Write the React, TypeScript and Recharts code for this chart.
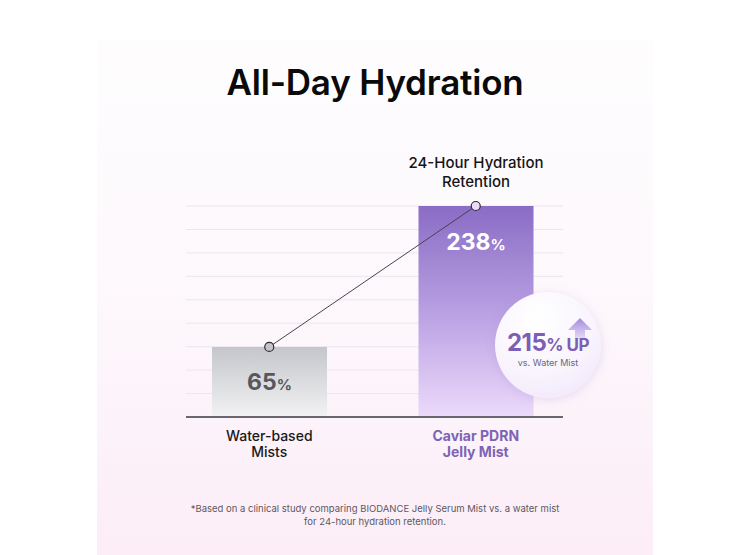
import React from "react";
import { Bar, CartesianGrid, Cell, ComposedChart, LabelList, Line, XAxis, YAxis } from "recharts";

// values
const CATEGORIES = ["Water-based Mists", "Caviar PDRN Jelly Mist"];
const CATEGORY_LINES = [
  ["Water-based", "Mists"],
  ["Caviar PDRN", "Jelly Mist"],
];
const RETENTION = [65, 238];
const ANNOTATION = ["24-Hour Hydration", "Retention"];
const FOOTNOTE = [
  "*Based on a clinical study comparing BIODANCE Jelly Serum Mist vs. a water mist",
  "for 24-hour hydration retention.",
];

// the original artwork is not drawn to scale, the axis starts below zero
const Y_MIN = -21;
const Y_MAX = 238;
const GRID_STEPS = 9;
const GRID_TICKS = Array.from({ length: GRID_STEPS + 1 }, (_, i) => Y_MIN + ((Y_MAX - Y_MIN) * i) / GRID_STEPS);

const FONT = "Inter, 'Noto Sans', sans-serif";
const TICK_COLORS = ["#1a1a1a", "#7c63b6"];
const BAR_FILLS = ["url(#gradGray)", "url(#gradPurple)"];
const DOT_FILLS = ["#c4c5ca", "#e9dcf8"];

const data = CATEGORIES.map((name, i) => ({
  name,
  value: RETENTION[i],
  range: [Y_MIN, RETENTION[i]],
}));

function CategoryTick(props: any) {
  const { x, y, payload, index } = props;
  const lines = CATEGORY_LINES[index] ?? [payload.value];
  return (
    <text
      x={x}
      y={y}
      textAnchor="middle"
      fontFamily={FONT}
      fontSize={14}
      fontWeight={index === 1 ? 700 : 500}
      fill={TICK_COLORS[index]}
    >
      {lines.map((l, i) => (
        <tspan key={i} x={x} dy={i === 0 ? 16 : 16}>
          {l}
        </tspan>
      ))}
    </text>
  );
}

function ValueLabel(props: any) {
  const { x, y, width, height, index } = props;
  const cx = x + width / 2;
  const cy = y + Math.min(height / 2, 36);
  return (
    <text
      x={cx}
      y={cy + 8}
      textAnchor="middle"
      fontFamily={FONT}
      fontWeight={700}
      fontSize={23}
      fill={index === 0 ? "#58585c" : "#ffffff"}
    >
      {RETENTION[index]}
      <tspan fontSize={15}>%</tspan>
    </text>
  );
}

function Annotation(props: any) {
  const { x, y, width, index } = props;
  if (index !== 1) return null;
  const cx = x + width / 2;
  return (
    <text x={cx} y={y - 38} textAnchor="middle" fontFamily={FONT} fontSize={15} fontWeight={500} fill="#151515">
      <tspan x={cx}>{ANNOTATION[0]}</tspan>
      <tspan x={cx} dy={19}>
        {ANNOTATION[1]}
      </tspan>
    </text>
  );
}

function PointDot(props: any) {
  const { cx, cy, index } = props;
  return <circle cx={cx} cy={cy} r={4.5} fill={DOT_FILLS[index]} stroke="#2e2a33" strokeWidth={1.2} />;
}

export default function App() {
  return (
    <div style={{ position: "absolute", left: 0, top: 0, width: 750, height: 555, background: "#ffffff", overflow: "hidden" }}>
      <div
        style={{
          position: "absolute",
          left: 97,
          top: 40,
          width: 556,
          height: 515,
          background: "linear-gradient(180deg, #fefdfe 0%, #fdf8fc 50%, #fcedf7 100%)",
        }}
      />
      <div
        style={{
          position: "absolute",
          left: 0,
          top: 61,
          width: 750,
          textAlign: "center",
          fontFamily: FONT,
          fontWeight: 600,
          fontSize: 35,
          letterSpacing: -0.2,
          color: "#0a0a0a",
        }}
      >
        All-Day Hydration
      </div>
      <div style={{ position: "absolute", left: 0, top: 0 }}>
        <ComposedChart width={750} height={555} data={data} margin={{ top: 206, right: 187, bottom: 78, left: 186 }}>
          <defs>
            <linearGradient id="gradGray" x1="0" y1="0" x2="0" y2="1">
              <stop offset="0%" stopColor="#c4c6cb" />
              <stop offset="100%" stopColor="#f2f2f3" />
            </linearGradient>
            <linearGradient id="gradPurple" x1="0" y1="0" x2="0" y2="1">
              <stop offset="0%" stopColor="#8a6cc5" />
              <stop offset="50%" stopColor="#b8a0e2" />
              <stop offset="100%" stopColor="#ecdafb" />
            </linearGradient>
          </defs>
          <CartesianGrid vertical={false} stroke="#ebe6ee" strokeWidth={1} />
          <YAxis hide type="number" domain={[Y_MIN, Y_MAX]} ticks={GRID_TICKS} />
          <XAxis
            dataKey="name"
            height={60}
            padding={{ left: -20, right: -16 }}
            axisLine={{ stroke: "#6b6770", strokeWidth: 2 }}
            tickLine={false}
            tick={<CategoryTick />}
            interval={0}
          />
          <Bar dataKey="range" barSize={115} isAnimationActive={false}>
            {data.map((_, i) => (
              <Cell key={i} fill={BAR_FILLS[i]} />
            ))}
            <LabelList dataKey="value" content={<ValueLabel />} />
            <LabelList dataKey="value" content={<Annotation />} />
          </Bar>
          <Line
            dataKey="value"
            stroke="#4a4150"
            strokeWidth={1}
            dot={<PointDot />}
            activeDot={false}
            isAnimationActive={false}
          />
        </ComposedChart>
      </div>
      {/* badge */}
      <div
        style={{
          position: "absolute",
          left: 495,
          top: 292,
          width: 106,
          height: 106,
          borderRadius: "50%",
          background: "radial-gradient(circle at 40% 25%, #ffffff 0%, #f9f4fd 55%, #eee2fa 100%)",
          boxShadow: "0 2px 10px rgba(170, 140, 210, 0.25)",
        }}
      />
      <svg style={{ position: "absolute", left: 0, top: 0 }} width={750} height={555}>
        <defs>
          <linearGradient id="arrowGrad" x1="0" y1="0" x2="0" y2="1">
            <stop offset="0%" stopColor="#a68be0" />
            <stop offset="100%" stopColor="#e6dbf7" />
          </linearGradient>
        </defs>
        <path d="M580 318 L592 330 L585 330 L585 339 L575 339 L575 330 L568 330 Z" fill="url(#arrowGrad)" />
        <text x={548} y={351} textAnchor="middle" fontFamily={FONT} fontWeight={700} fill="#7a5fb4" fontSize={24} letterSpacing={-0.5}>
          215<tspan fontSize={17}>% UP</tspan>
        </text>
        <text x={548} y={366} textAnchor="middle" fontFamily={FONT} fontSize={9} fill="#6e6480">
          vs. Water Mist
        </text>
      </svg>
      <div
        style={{
          position: "absolute",
          left: 0,
          top: 502,
          width: 750,
          textAlign: "center",
          fontFamily: FONT,
          fontSize: 9.5,
          lineHeight: "13px",
          color: "#5c5862",
        }}
      >
        {FOOTNOTE[0]}
        <br />
        {FOOTNOTE[1]}
      </div>
    </div>
  );
}
